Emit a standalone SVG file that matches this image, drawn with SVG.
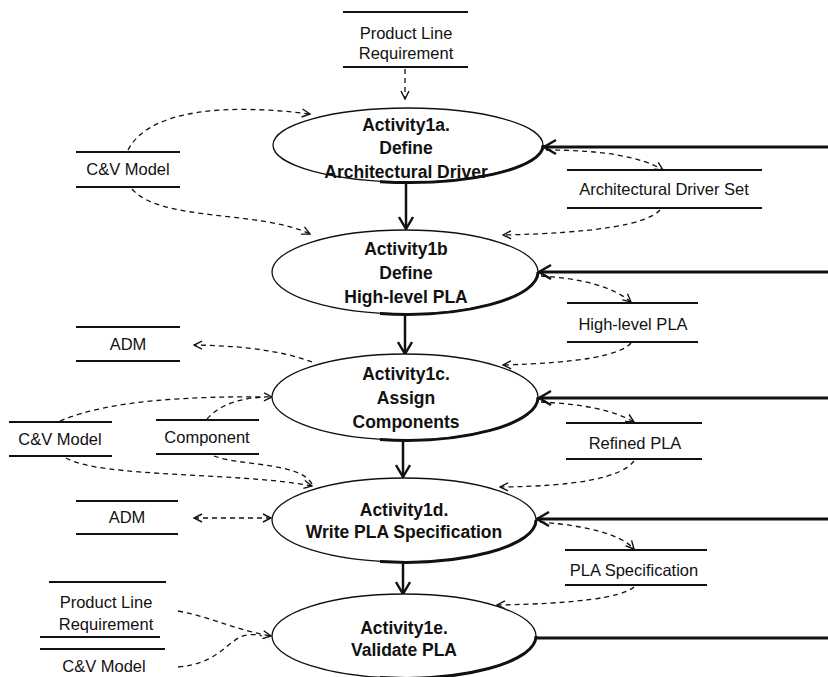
<svg xmlns="http://www.w3.org/2000/svg" width="828" height="677" viewBox="0 0 828 677">
<style>
  .act { font-family: "Liberation Sans", Arial, sans-serif; font-weight: bold; font-size: 17.5px; fill: #111; text-anchor: middle; }
  .lbl { font-family: "Liberation Sans", Arial, sans-serif; font-size: 16.5px; fill: #111; text-anchor: middle; }
  .ell { fill: #fff; stroke: #111; stroke-width: 1.3; }
  .shade { fill: none; stroke: #111; stroke-width: 3; }
  .store { stroke: #111; stroke-width: 2; }
  .dash { fill: none; stroke: #111; stroke-width: 1.3; stroke-dasharray: 5 4; }
  .thick { fill: none; stroke: #111; stroke-width: 3; }
  .flow { fill: none; stroke: #111; stroke-width: 2.5; }
</style>
<defs>
  <marker id="ah" viewBox="0 0 10 10" refX="9" refY="5" markerWidth="10" markerHeight="10" markerUnits="userSpaceOnUse" orient="auto-start-reverse">
    <path d="M1,1 L9,5 L1,9" fill="none" stroke="#111" stroke-width="1.4"/>
  </marker>
  <marker id="ahT" viewBox="0 0 16 16" refX="14" refY="8" markerWidth="16" markerHeight="16" markerUnits="userSpaceOnUse" orient="auto">
    <path d="M2,1 L14,8 L2,15" fill="none" stroke="#111" stroke-width="2.4"/>
  </marker>
</defs>

<g id="connectors">
  <line class="flow" x1="406" y1="182" x2="406" y2="229" marker-end="url(#ahT)"/>
  <line class="flow" x1="405" y1="315" x2="405" y2="354" marker-end="url(#ahT)"/>
  <line class="flow" x1="403" y1="440" x2="403" y2="477" marker-end="url(#ahT)"/>
  <line class="flow" x1="403" y1="562" x2="403" y2="594" marker-end="url(#ahT)"/>
  <line class="thick" x1="828" y1="147" x2="544" y2="147" marker-end="url(#ahT)"/>
  <line class="thick" x1="828" y1="272" x2="539" y2="272" marker-end="url(#ahT)"/>
  <line class="thick" x1="828" y1="398" x2="539" y2="398" marker-end="url(#ahT)"/>
  <line class="thick" x1="828" y1="519" x2="537" y2="519" marker-end="url(#ahT)"/>
  <line class="thick" x1="535" y1="638" x2="828" y2="638"/>
  <line class="dash" x1="405" y1="69" x2="405" y2="99" marker-end="url(#ah)"/>
  <path class="dash" d="M128,150 C150,108 230,104 310,114" marker-end="url(#ah)"/>
  <path class="dash" d="M132,189 C160,222 260,210 310,234" marker-end="url(#ah)"/>
  <path class="dash" d="M546,150 Q630,150 663,170" marker-end="url(#ah)"/>
  <path class="dash" d="M660,210 Q640,232 503,235" marker-end="url(#ah)"/>
  <path class="dash" d="M541,276 Q605,280 631,302" marker-end="url(#ah)"/>
  <path class="dash" d="M631,343 Q615,362 503,365" marker-end="url(#ah)"/>
  <path class="dash" d="M541,402 Q605,405 634,422" marker-end="url(#ah)"/>
  <path class="dash" d="M634,461 Q615,486 500,487" marker-end="url(#ah)"/>
  <path class="dash" d="M540,522 Q615,528 634,549" marker-end="url(#ah)"/>
  <path class="dash" d="M634,587 Q615,603 497,605" marker-end="url(#ah)"/>
  <path class="dash" d="M312,362 Q270,346 194,345" marker-end="url(#ah)"/>
  <path class="dash" d="M60,421 C110,400 190,396 272,397" marker-end="url(#ah)"/>
  <path class="dash" d="M207,419 C222,402 245,398 265,397"/>
  <path class="dash" d="M66,458 C100,478 240,472 312,486" marker-end="url(#ah)"/>
  <path class="dash" d="M214,456 C240,466 300,462 312,484"/>
  <line class="dash" x1="194" y1="518" x2="271" y2="518" marker-start="url(#ah)" marker-end="url(#ah)"/>
  <path class="dash" d="M178,611 C215,618 235,630 271,636" marker-end="url(#ah)"/>
  <path class="dash" d="M178,667 C215,664 225,645 240,637 C250,633 260,635 262,636"/>
</g>

<g id="act1a">
  <ellipse class="ell" cx="408" cy="145" rx="135" ry="37"/>
  <path class="shade" d="M543,145 A135,37 0 0 1 380,181.7"/>
  <text class="act" x="406" y="131">Activity1a.</text>
  <text class="act" x="406" y="154">Define</text>
  <text class="act" x="406" y="178">Architectural Driver</text>
</g>
<g id="act1b">
  <ellipse class="ell" cx="405" cy="272" rx="133" ry="42"/>
  <path class="shade" d="M538,272 A133,42 0 0 1 380,313.6"/>
  <text class="act" x="406" y="255">Activity1b</text>
  <text class="act" x="406" y="279">Define</text>
  <text class="act" x="406" y="303">High-level PLA</text>
</g>
<g id="act1c">
  <ellipse class="ell" cx="405" cy="397" rx="133" ry="43"/>
  <path class="shade" d="M538,397 A133,43 0 0 1 380,439.6"/>
  <text class="act" x="406" y="380">Activity1c.</text>
  <text class="act" x="406" y="404">Assign</text>
  <text class="act" x="406" y="428">Components</text>
</g>
<g id="act1d">
  <ellipse class="ell" cx="404" cy="520" rx="132" ry="42"/>
  <path class="shade" d="M536,520 A132,42 0 0 1 380,561.6"/>
  <text class="act" x="404" y="516">Activity1d.</text>
  <text class="act" x="404" y="538">Write PLA Specification</text>
</g>
<g id="act1e">
  <ellipse class="ell" cx="404" cy="636" rx="132" ry="42"/>
  <path class="shade" d="M536,636 A132,42 0 0 1 380,677.6"/>
  <text class="act" x="404" y="634">Activity1e.</text>
  <text class="act" x="404" y="656">Validate PLA</text>
</g>

<g id="store-plr-top">
  <line class="store" x1="343" y1="12" x2="468" y2="12"/>
  <line class="store" x1="343" y1="67" x2="468" y2="67"/>
  <text class="lbl" x="406" y="39">Product Line</text>
  <text class="lbl" x="406" y="59">Requirement</text>
</g>
<g id="store-cv1">
  <line class="store" x1="76" y1="152" x2="180" y2="152"/>
  <line class="store" x1="76" y1="187" x2="180" y2="187"/>
  <text class="lbl" x="128" y="175">C&amp;V Model</text>
</g>
<g id="store-ads">
  <line class="store" x1="567" y1="170" x2="762" y2="170"/>
  <line class="store" x1="567" y1="208" x2="762" y2="208"/>
  <text class="lbl" x="664" y="195">Architectural Driver Set</text>
</g>
<g id="store-hlpla">
  <line class="store" x1="567" y1="303" x2="698" y2="303"/>
  <line class="store" x1="567" y1="342" x2="698" y2="342"/>
  <text class="lbl" x="633" y="330">High-level PLA</text>
</g>
<g id="store-adm1">
  <line class="store" x1="76" y1="327" x2="180" y2="327"/>
  <line class="store" x1="76" y1="361" x2="180" y2="361"/>
  <text class="lbl" x="128" y="350">ADM</text>
</g>
<g id="store-cv2">
  <line class="store" x1="9" y1="422" x2="112" y2="422"/>
  <line class="store" x1="9" y1="456" x2="112" y2="456"/>
  <text class="lbl" x="60" y="445">C&amp;V Model</text>
</g>
<g id="store-component">
  <line class="store" x1="156" y1="420" x2="259" y2="420"/>
  <line class="store" x1="156" y1="454" x2="259" y2="454"/>
  <text class="lbl" x="207" y="443">Component</text>
</g>
<g id="store-refined">
  <line class="store" x1="566" y1="423" x2="702" y2="423"/>
  <line class="store" x1="566" y1="459" x2="702" y2="459"/>
  <text class="lbl" x="635" y="449">Refined PLA</text>
</g>
<g id="store-adm2">
  <line class="store" x1="76" y1="501" x2="178" y2="501"/>
  <line class="store" x1="76" y1="534" x2="178" y2="534"/>
  <text class="lbl" x="127" y="523">ADM</text>
</g>
<g id="store-plaspec">
  <line class="store" x1="565" y1="550" x2="707" y2="550"/>
  <line class="store" x1="565" y1="585" x2="707" y2="585"/>
  <text class="lbl" x="634" y="576">PLA Specification</text>
</g>
<g id="store-plr-bottom">
  <line class="store" x1="49" y1="582" x2="166" y2="582"/>
  <line class="store" x1="40" y1="637" x2="160" y2="637"/>
  <text class="lbl" x="106" y="608">Product Line</text>
  <text class="lbl" x="106" y="630">Requirement</text>
</g>
<g id="store-cv3">
  <line class="store" x1="40" y1="649" x2="165" y2="649"/>
  <text class="lbl" x="104" y="672">C&amp;V Model</text>
</g>
</svg>
